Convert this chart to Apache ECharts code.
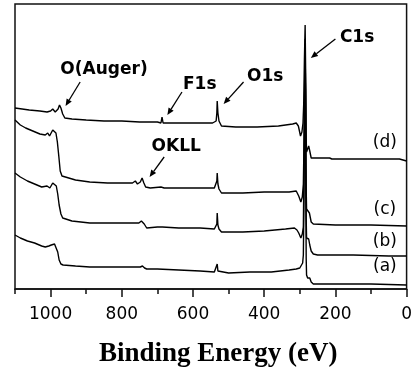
<!DOCTYPE html>
<html>
<head>
<meta charset="utf-8">
<script src="https://cdn.jsdelivr.net/npm/echarts@6/dist/echarts.min.js"></script>
<style>
  html, body { margin: 0; padding: 0; background: #fff; }
  #main { width: 415px; height: 373px; }
</style>
</head>
<body>
<div id="main"></div>
<script>
  // [binding energy (eV), intensity (a.u., curves offset)]
  var traceA = [[1100, 54], [1085, 51], [1065, 48], [1045, 46], [1025, 43], [1015, 42], [1005, 43], [998, 44], [994, 45], [989, 45], [984, 43], [980, 37], [976, 29], [971, 25], [965, 24], [930, 23], [890, 22], [840, 22], [790, 22], [760, 22], [748, 22], [742, 23], [736, 21], [730, 20], [700, 20], [640, 19], [580, 18], [540, 17], [535, 18], [532, 25], [530, 18], [526, 16], [500, 16], [440, 17], [380, 17], [330, 19], [310, 20], [300, 21], [295, 23], [292, 26], [290, 34], [288, 100], [286, 200], [285, 230], [284, 190], [283, 100], [282, 30], [281, 14], [278, 11], [275, 12], [272, 11], [268, 7], [262, 5], [200, 5], [100, 5], [0, 4]]
  var traceB = [[1100, 116], [1085, 112], [1065, 108], [1045, 105], [1025, 102], [1010, 103], [1006, 104], [1002, 101], [997, 103], [994, 106], [989, 106], [984, 103], [980, 95], [976, 84], [971, 75], [966, 71], [940, 68], [890, 66], [840, 66], [790, 66], [765, 66], [760, 67], [752, 66], [745, 68], [741, 69], [737, 65], [730, 61], [700, 62], [686, 62], [640, 61], [580, 61], [540, 60], [535, 61], [533, 65], [532, 76], [530, 64], [527, 60], [520, 57], [460, 57], [400, 58], [340, 60], [315, 61], [308, 59], [303, 56], [297, 51], [293, 55], [290, 62], [288, 130], [286, 210], [285, 240], [284, 200], [283, 120], [282, 70], [281, 51], [278, 52], [275, 50], [272, 44], [268, 38], [262, 35], [250, 34], [150, 34], [50, 33], [0, 33]]
  var traceC = [[1100, 169], [1085, 164], [1070, 161], [1050, 158], [1030, 155], [1015, 154], [1008, 156], [1003, 153], [998, 155], [994, 159], [990, 159], [985, 156], [981, 147], [977, 133], [973, 118], [968, 113], [964, 111], [930, 109], [890, 107], [840, 106], [790, 106], [770, 106], [762, 108], [756, 105], [748, 107], [743, 111], [738, 106], [733, 102], [720, 101], [690, 102], [685, 103], [681, 101], [640, 101], [580, 101], [540, 101], [535, 103], [533, 108], [532, 116], [530, 105], [527, 100], [520, 96], [460, 96], [400, 97], [330, 97], [310, 98], [303, 93], [297, 87], [293, 92], [290, 105], [288, 150], [286, 220], [285, 250], [284, 200], [283, 140], [282, 100], [281, 80], [277, 79], [273, 76], [268, 67], [262, 65], [200, 64], [100, 64], [0, 63]]
  var traceD = [[1100, 181], [1080, 180], [1060, 179], [1030, 178], [1010, 177], [1000, 178], [994, 180], [987, 177], [979, 180], [975, 184], [971, 181], [966, 175], [960, 171], [940, 170], [900, 169], [850, 168], [800, 168], [750, 167], [700, 167], [690, 166], [687, 172], [684, 166], [650, 166], [600, 166], [545, 166], [535, 168], [533, 176], [532, 188], [530, 176], [527, 168], [520, 163], [480, 162], [420, 162], [360, 163], [320, 165], [310, 166], [304, 163], [298, 153], [294, 157], [291, 166], [289, 185], [287, 230], [285, 264], [283, 200], [282, 150], [281, 137], [278, 140], [275, 143], [272, 138], [268, 131], [240, 131], [216, 131], [213, 132], [210, 130], [150, 130], [80, 130], [20, 130], [0, 128]]

  var curveNames = ['(a)', '(b)', '(c)', '(d)']
  // where the curve tags sit: [energy, intensity]
  var curveTagAt = [[61, 22], [61, 47], [61, 79], [61, 146]]

  // peak notes: text centre, arrow tail, arrow head (energy, intensity)
  var noteText = ['O(Auger)', 'F1s', 'O1s', 'C1s', 'OKLL']
  var noteAt = [[850, 219], [581, 204], [397, 212], [139, 251], [647, 142]]
  var noteFrom = [[917, 207], [631, 197], [458, 207], [200, 250], [681, 132]]
  var noteTo = [[958, 183], [672, 174], [514, 185], [269, 231], [722, 112]]

  var chart = echarts.init(document.getElementById('main'))

  function line (data) {
    return {
      type: 'line',
      data: data,
      symbol: 'none',
      xAxisIndex: 0,
      yAxisIndex: 0,
      lineStyle: { color: '#000', width: 1.4 },
      itemStyle: { color: '#000' }
    }
  }

  var option = {
    animation: false,
    grid: {
      left: 15, right: 5, top: 4, bottom: 84,
      show: true, borderColor: '#111', borderWidth: 1.5
    },
    xAxis: [{
      type: 'value',
      min: 0,
      max: 1100,
      interval: 200,
      inverse: true,
      position: 'bottom',
      axisLine: { lineStyle: { color: '#111', width: 1.5 } },
      axisTick: { length: 8, lineStyle: { color: '#111', width: 1.5 } },
      axisLabel: {
        margin: 17, fontSize: 17, fontFamily: 'DejaVu Sans', color: '#000',
        showMaxLabel: false,
        formatter: function (v) { return String(v) }
      },
      splitLine: { show: false },
      name: 'Binding Energy (eV)',
      nameLocation: 'middle',
      nameGap: 52,
      nameTextStyle: {
        fontFamily: 'Liberation Serif', fontWeight: 'bold', fontSize: 27, color: '#000',
        padding: [0, 0, 0, 15]
      }
    }, {
      // minor ticks every 100 eV
      type: 'value',
      min: 0,
      max: 1100,
      interval: 100,
      inverse: true,
      position: 'bottom',
      axisLine: { show: false },
      axisTick: { length: 5, lineStyle: { color: '#111', width: 1.5 } },
      axisLabel: { show: false },
      splitLine: { show: false }
    }],
    yAxis: {
      type: 'value',
      min: 0,
      max: 285,
      show: false
    },
    series: [line(traceA), line(traceB), line(traceC), line(traceD)]
  }
  chart.setOption(option)

  // annotations placed through the axes
  function px (p) {
    return chart.convertToPixel({ xAxisIndex: 0, yAxisIndex: 0 }, p)
  }
  var g = []
  curveNames.forEach(function (name, i) {
    var p = px(curveTagAt[i])
    g.push({
      type: 'text', x: p[0], y: p[1],
      style: { text: name, font: '17px "DejaVu Sans"', fill: '#000', align: 'center', verticalAlign: 'middle' }
    })
  })
  noteText.forEach(function (t, i) {
    var p = px(noteAt[i])
    var a = px(noteFrom[i])
    var b = px(noteTo[i])
    g.push({
      type: 'text', x: p[0], y: p[1],
      style: { text: t, font: 'bold 17px "DejaVu Sans"', fill: '#000', align: 'center', verticalAlign: 'middle' }
    })
    var dx = b[0] - a[0]
    var dy = b[1] - a[1]
    var len = Math.sqrt(dx * dx + dy * dy)
    var ux = dx / len
    var uy = dy / len
    var hl = 7
    var hw = 3
    var bx = b[0] - ux * hl
    var by = b[1] - uy * hl
    g.push({
      type: 'line',
      shape: { x1: a[0], y1: a[1], x2: bx, y2: by },
      style: { stroke: '#000', lineWidth: 1.3 }
    })
    g.push({
      type: 'polygon',
      shape: { points: [[b[0], b[1]], [bx - uy * hw, by + ux * hw], [bx + uy * hw, by - ux * hw]] },
      style: { fill: '#000' }
    })
  })
  chart.setOption({ graphic: g })
</script>
</body>
</html>
